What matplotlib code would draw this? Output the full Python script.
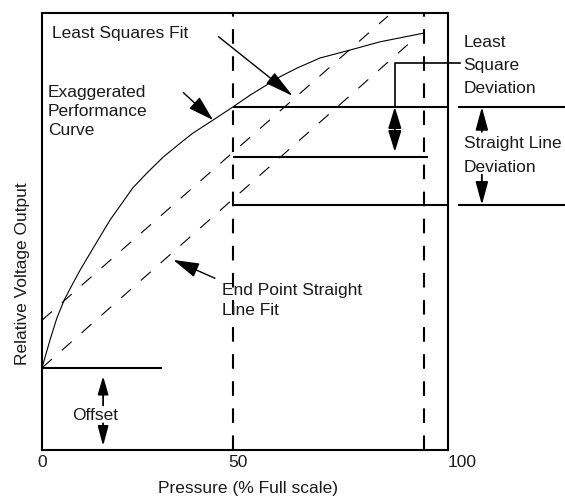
import matplotlib
matplotlib.use("Agg")
import matplotlib.pyplot as plt

W, H = 565, 498
plt.rcParams['font.family'] = ['Liberation Sans', 'DejaVu Sans']
plt.rcParams['lines.scale_dashes'] = False

# ---------------- data ----------------
pressure = [0, 2.1, 3.9, 5.8, 7.9, 10.0, 13.4, 17.8, 23.8, 27.5, 31.7, 36.6,
            39.5, 44.8, 50, 54.5, 59.7, 62.3, 66.8, 72.8, 80.6, 88.5, 100]
output = [18.8, 25.2, 30.2, 34.3, 37.8, 41.2, 46.2, 52.6, 60.0, 63.4, 67.0, 70.5,
          72.5, 75.5, 78.5, 81.2, 84.0, 85.4, 87.4, 89.7, 91.5, 93.4, 95.4]
endpoint_x = [0, 96.6]
endpoint_y = [18.8, 93.4]
lsq_x = [0, 90.6]
lsq_y = [29.7, 99.3]
ref_x = [50, 100]
offset = 18.8
curve_at_50 = 78.5
lsq_at_50 = 67.0
endpoint_at_50 = 56.1
xtick_values = [0, 50, 100]
xtick_labels = ['0', '50', '100']

XMAX = 106.2
TXT = '#1a1a1a'
FS = 12.5

fig = plt.figure(figsize=(W / 100, H / 100), dpi=100)
ax = fig.add_axes([42 / W, (H - 450) / H, (447.5 - 42) / W, (450 - 13) / H])
ax.set_xlim(0, XMAX)
ax.set_ylim(0, 100)
ax.set_xticks([])
ax.set_yticks([])
for s in ax.spines.values():
    s.set_linewidth(1.5)
    s.set_color('black')

# curve and fits
ax.plot(pressure, output, color='black', lw=0.8)
ax.plot(endpoint_x, endpoint_y, color='black', lw=0.8, dashes=(9.5, 9.5))
ax.plot(lsq_x, lsq_y, color='black', lw=0.8, dashes=(9.5, 9.5))
for xv in ref_x:
    ax.plot([xv, xv], [0, 100], color='black', lw=1.5, dashes=(10.5, 9))

# horizontal reference lines
hl = dict(color='black', lw=1.5, solid_capstyle='butt', clip_on=False)
ax.plot([50, XMAX], [curve_at_50] * 2, **hl)
ax.plot([108.9, 136.9], [curve_at_50] * 2, **hl)
ax.plot([50, 101.0], [lsq_at_50] * 2, **hl)
ax.plot([50, XMAX], [endpoint_at_50] * 2, **hl)
ax.plot([108.9, 136.9], [endpoint_at_50] * 2, **hl)
ax.plot([0, 31.4], [offset] * 2, **hl)

# bracket for least square deviation
ax.plot([109.4, 92.4, 92.4], [88.6, 88.6, curve_at_50], color='black', lw=1.2,
        clip_on=False)


def arrow(tip, start, hl_, hw, style='-|>', lw=1.0):
    ax.annotate('', xy=tip, xytext=start, annotation_clip=False,
                arrowprops=dict(arrowstyle=f'{style},head_length={hl_},head_width={hw}',
                                mutation_scale=10, shrinkA=0, shrinkB=0,
                                color='black', lw=lw))


arrow((65.7, 81.0), (46.2, 94.6), 1.8, 0.42)
arrow((44.8, 75.5), (37.0, 81.8), 1.6, 0.48)
arrow((34.4, 43.5), (45.3, 39.3), 1.6, 0.46)
# offset arrows
arrow((16.0, 16.9), (16.0, 10.2), 1.1, 0.32, lw=1.3)
arrow((16.0, 0.9), (16.0, 6.1), 1.2, 0.32, lw=1.3)
# least square deviation double arrow
arrow((92.4, lsq_at_50 + 1.2), (92.4, curve_at_50), 1.3, 0.4, style='<|-|>', lw=1.3)
# straight line deviation arrows
arrow((115.2, curve_at_50), (115.2, 72.8), 1.4, 0.38, lw=1.3)
arrow((115.2, endpoint_at_50), (115.2, 63.0), 1.4, 0.38, lw=1.3)


def ptext(px, py, s, **kw):
    d = dict(ha='left', va='baseline', fontsize=FS, color=TXT)
    d.update(kw)
    fig.text(px / W, 1 - py / H, s, **d)


ptext(52, 38, 'Least Squares Fit')
ptext(48, 97, 'Exaggerated')
ptext(48, 116, 'Performance')
ptext(48, 135, 'Curve')
ptext(221.5, 295, 'End Point Straight')
ptext(221.5, 315, 'Line Fit')
ptext(463.5, 46.7, 'Least')
ptext(463.5, 70, 'Square')
ptext(463.5, 93.3, 'Deviation')
ptext(463.5, 148.3, 'Straight Line')
ptext(463.5, 171.7, 'Deviation')
ptext(95.3, 420, 'Offset', ha='center')

# tick labels
tick_px = {0: (42, 'center'), 50: (228.7, 'left'), 100: (448, 'left')}
for v, lab in zip(xtick_values, xtick_labels):
    px, ha = tick_px[v]
    ptext(px, 466.7, lab, ha=ha)

ptext(247.5, 493, 'Pressure (% Full scale)', ha='center')
fig.text(26.7 / W, 1 - 274 / H, 'Relative Voltage Output', rotation=90,
         rotation_mode='anchor', ha='center', va='baseline', fontsize=FS, color=TXT)

fig.savefig('out.png', dpi=100)
